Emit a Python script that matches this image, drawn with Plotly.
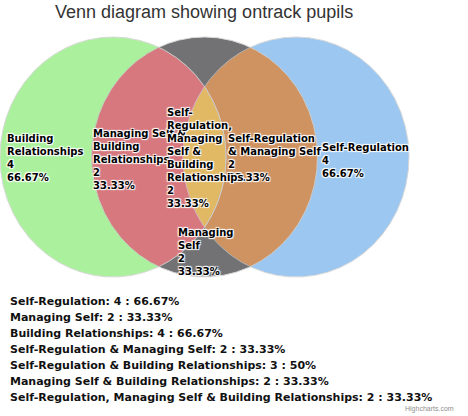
import numpy as np
import plotly.graph_objects as go

# ---------------- data ----------------
area_names = [
    "Self-Regulation",
    "Managing Self",
    "Building Relationships",
    "Self-Regulation & Managing Self",
    "Self-Regulation & Building Relationships",
    "Managing Self & Building Relationships",
    "Self-Regulation, Managing Self & Building Relationships",
]
area_sets = [[0], [1], [2], [0, 1], [0, 2], [1, 2], [0, 1, 2]]
area_values = [4, 2, 4, 2, 3, 2, 2]
area_percents = ["66.67", "33.33", "66.67", "33.33", "50", "33.33", "33.33"]
# wrapped label text as it appears inside the diagram (None = no label shown)
area_wrapped = [
    "Self-Regulation",
    "Managing<br>Self",
    "Building<br>Relationships",
    "Self-Regulation<br>& Managing Self",
    None,
    "Managing Self &<br>Building<br>Relationships",
    "Self-<br>Regulation,<br>Managing<br>Self &<br>Building<br>Relationships",
]
colors = ["#7cb5ec", "#434348", "#90ed7d", "#f7a35c", "#8085e9", "#f15c80", "#e4d354"]

# ---------------- layout geometry ----------------
W, H = 468, 416
circle_cx = [0.81, 0.0, -0.81]   # in radius units
circle_cy = [0.0, 0.0, 0.0]
PX_X, PX_Y = 113.0, 120.0          # pixels per radius unit (image is slightly squashed)
ORIGIN_X, ORIGIN_Y = 204.5, 157.0  # pixel position of unit origin

# label top-left pixel positions (first-line centre y)
label_pos = [(321, 147), (177, 232), (6, 138), (227, 139), None, (92, 133), (166, 113)]
legend_y = [301, 317, 333, 349, 365, 381, 397]


def px2x(px):
    return px / W


def px2y(py):
    return 1 - py / H


def region(sets):
    th = np.linspace(0, 2 * np.pi, 1441)
    pts = []
    for i in sets:
        x = circle_cx[i] + np.cos(th)
        y = circle_cy[i] + np.sin(th)
        ok = np.ones_like(x, dtype=bool)
        for j in sets:
            if j != i:
                ok &= (x - circle_cx[j]) ** 2 + (y - circle_cy[j]) ** 2 <= 1 + 1e-9
        pts.append(np.c_[x[ok], y[ok]])
    P = np.vstack(pts)
    c = P.mean(axis=0)
    order = np.argsort(np.arctan2(P[:, 1] - c[1], P[:, 0] - c[0]))
    P = P[order]
    P = np.vstack([P, P[:1]])
    return P[:, 0], P[:, 1]


fig = go.Figure()
for k, s in enumerate(area_sets):
    x, y = region(s)
    fig.add_trace(go.Scatter(
        x=x, y=y, mode="lines", fill="toself",
        fillcolor=colors[k], line=dict(color="#cccccc", width=1),
        opacity=0.75, hoverinfo="skip", showlegend=False,
    ))

annotations = []
label_font = dict(family="DejaVu Sans", size=10, color="#000000", weight="bold", shadow="auto")
for k in range(len(area_names)):
    if area_wrapped[k] is None:
        continue
    lx, ly = label_pos[k]
    annotations.append(dict(
        xref="paper", yref="paper", x=px2x(lx - 1), y=px2y(ly - 7.5),
        xanchor="left", yanchor="top", align="left", showarrow=False,
        text=f"{area_wrapped[k]}<br>{area_values[k]}<br>{area_percents[k]}%",
        font=label_font,
    ))

for k in range(len(area_names)):
    annotations.append(dict(
        xref="paper", yref="paper", x=px2x(8), y=px2y(legend_y[k]),
        xanchor="left", yanchor="middle", align="left", showarrow=False,
        text=f"{area_names[k]}: {area_values[k]} : {area_percents[k]}%",
        font=dict(family="DejaVu Sans", size=11, color="#111111", weight="bold"),
    ))

annotations.append(dict(
    xref="paper", yref="paper", x=px2x(204), y=px2y(12),
    xanchor="center", yanchor="middle", showarrow=False,
    text="Venn diagram showing ontrack pupils",
    font=dict(family="Liberation Sans", size=18, color="#333333"),
))
annotations.append(dict(
    xref="paper", yref="paper", x=px2x(456), y=px2y(409),
    xanchor="right", yanchor="middle", showarrow=False,
    text="Highcharts.com",
    font=dict(family="Liberation Sans", size=7, color="#909090"),
))

fig.update_layout(
    width=W, height=H,
    margin=dict(l=0, r=0, t=0, b=0),
    paper_bgcolor="white", plot_bgcolor="white",
    xaxis=dict(range=[-ORIGIN_X / PX_X, (W - ORIGIN_X) / PX_X], visible=False, fixedrange=True),
    yaxis=dict(range=[(ORIGIN_Y - H) / PX_Y, ORIGIN_Y / PX_Y], visible=False, fixedrange=True),
    annotations=annotations,
    showlegend=False,
)

fig.write_html(
    "out.html",
    config={"displayModeBar": False},
    post_script="document.body.style.margin='0';document.body.style.overflow='hidden';",
)
